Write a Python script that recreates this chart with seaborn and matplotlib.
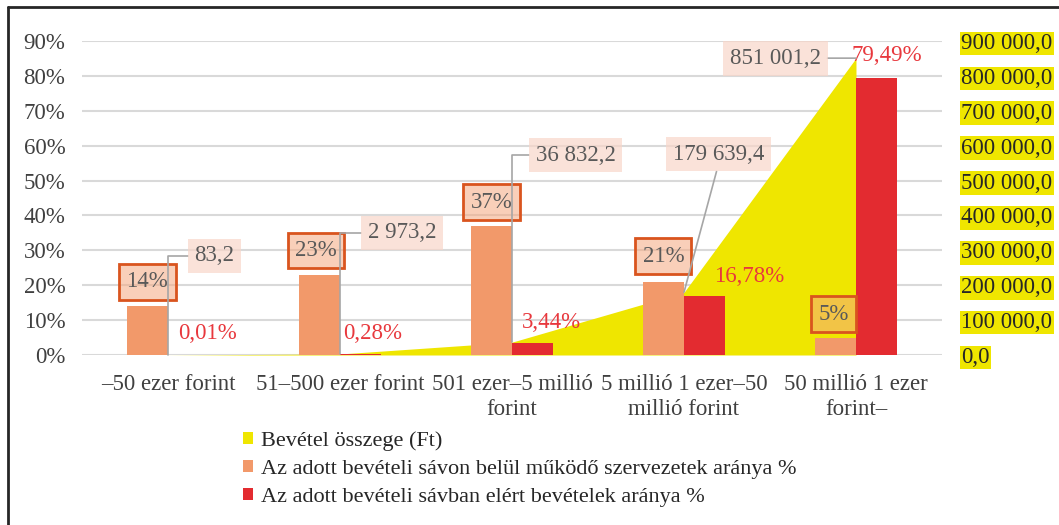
import matplotlib.pyplot as plt
import seaborn as sns
import pandas as pd
from matplotlib.patches import Patch
from matplotlib.lines import Line2D
from matplotlib.ticker import FuncFormatter, MultipleLocator

# adatok
kategoriak = ['–50 ezer forint', '51–500 ezer forint', '501 ezer–5 millió\nforint',
              '5 millió 1 ezer–50\nmillió forint', '50 millió 1 ezer\nforint–']
bevetel = [83.2, 2973.2, 36832.2, 179639.4, 851001.2]
szervezet_arany = [14, 23, 37, 21, 5]
bevetel_arany = [0.01, 0.28, 3.44, 16.78, 79.49]

nev_bevetel = 'Bevétel összege (Ft)'
nev_szerv = 'Az adott bevételi sávon belül működő szervezetek aránya %'
nev_arany = 'Az adott bevételi sávban elért bevételek aránya %'

# címkék helye (x kategória, y %)
pos_szerv = [(-0.12, 21.0), (0.86, 30.0), (1.88, 43.8), (2.88, 28.3), (3.87, 11.7)]
pos_arany = [(0.23, 6.3), (1.19, 6.3), (2.23, 9.2), (3.38, 22.6), (4.18, 86.0)]
pos_bev = [(0.27, 28.4), (1.36, 35.0), (2.37, 57.3), (3.2, 57.6), (3.53, 85.1)]

SARGA = '#EFE600'
NARANCS = '#F2996A'
PIROS = '#E32B30'
SZURKE = '#404040'

sns.set_style('white')
plt.rcParams['font.family'] = ['Liberation Serif', 'DejaVu Serif']

df = pd.DataFrame({
    'kategoria': kategoriak * 2,
    'ertek': szervezet_arany + bevetel_arany,
    'sorozat': [nev_szerv] * 5 + [nev_arany] * 5,
})

fig = plt.figure(figsize=(10.59, 5.25), dpi=100)
ax = fig.add_axes([0.0774, 0.3238, 0.8121, 0.598])
ax2 = ax.twinx()

# sárga terület a jobb tengelyen
ax2.fill_between(range(len(bevetel)), bevetel, 0, color=SARGA, lw=0)
ax2.set_ylim(0, 900000)
ax2.yaxis.set_major_locator(MultipleLocator(100000))
ax2.yaxis.set_major_formatter(FuncFormatter(
    lambda v, p: f'{v:,.1f}'.replace(',', ' ').replace('.', ',')))
ax2.grid(axis='y', color='#D9D9D9', lw=1.5)
ax2.set_axisbelow(True)

sns.barplot(data=df, x='kategoria', y='ertek', hue='sorozat', ax=ax,
            palette=[NARANCS, PIROS], width=0.48, saturation=1, legend=False,
            linewidth=0, edgecolor='none')
ax.set_ylim(0, 90)
ax.set_xlim(-0.5, 4.5)
ax.yaxis.set_major_locator(MultipleLocator(10))
ax.yaxis.set_major_formatter(FuncFormatter(lambda v, p: f'{v:.0f}%'))
ax.set_xlabel('')
ax.set_ylabel('')
ax.grid(False)

ax.set_zorder(2)
ax2.set_zorder(1)
ax.patch.set_visible(False)

for a in (ax, ax2):
    for s in a.spines.values():
        s.set_visible(False)
ax.tick_params(axis='y', length=0, pad=12, labelsize=16.5, labelcolor=SZURKE)
ax.tick_params(axis='x', length=0, pad=14, labelsize=16.5, labelcolor=SZURKE)
ax2.tick_params(axis='y', length=0, pad=14, labelsize=16.5, labelcolor='#262626')
for t in ax2.get_yticklabels():
    t.set_bbox(dict(fc=SARGA, ec='none', pad=1))
for t in ax.get_xticklabels():
    t.set_linespacing(1.25)

# címkék
for v, (x, y) in zip(szervezet_arany, pos_szerv):
    ax.text(x, y, f'{v}%', ha='center', va='center', fontsize=16.5, color='#595959',
            bbox=dict(boxstyle='square,pad=0.32', fc=(0.96, 0.66, 0.5, 0.55),
                      ec='#D9541E', lw=2))

for v, (x, y) in zip(bevetel_arany, pos_arany):
    ax.text(x, y, f'{v:.2f}'.replace('.', ',') + '%', ha='center', va='center',
            fontsize=16.5, color='#E8383D')

stilusok = [('angle,angleA=0,angleB=90,rad=0', (0, 0.5))] * 3 + \
           [('arc3,rad=0', (0.5, 0)), ('arc3,rad=0', (1, 0.5))]
for i, (v, (x, y)) in enumerate(zip(bevetel, pos_bev)):
    cs, rp = stilusok[i]
    ax.annotate(f'{v:,.1f}'.replace(',', ' ').replace('.', ','),
                xy=(i, v), xycoords=ax2.transData,
                xytext=(x, y), textcoords=ax.transData,
                ha='center', va='center', fontsize=16.5, color='#595959',
                bbox=dict(boxstyle='square,pad=0.3', fc='#F8D6C9', ec='none', alpha=0.7),
                arrowprops=dict(arrowstyle='-', color='#A6A6A6', lw=1.2,
                                connectionstyle=cs, relpos=rp, shrinkA=0, shrinkB=0))

# jelmagyarázat
kezelok = [Patch(fc=SARGA, ec='none', label=nev_bevetel),
           Patch(fc=NARANCS, ec='none', label=nev_szerv),
           Patch(fc=PIROS, ec='none', label=nev_arany)]
fig.legend(handles=kezelok, loc='upper left', bbox_to_anchor=(243 / 1059, 1 - 431 / 525),
           frameon=False, fontsize=16, handlelength=0.45, handleheight=0.45,
           handletextpad=0.35, labelspacing=0.4, borderaxespad=0, borderpad=0,
           labelcolor='#262626')

# keret
fig.add_artist(Line2D([8 / 1059, 8 / 1059], [0, 1 - 7 / 525], color='#262626', lw=2))
fig.add_artist(Line2D([8 / 1059, 1], [1 - 7 / 525, 1 - 7 / 525], color='#262626', lw=2))

fig.savefig('out.png', dpi=100)
